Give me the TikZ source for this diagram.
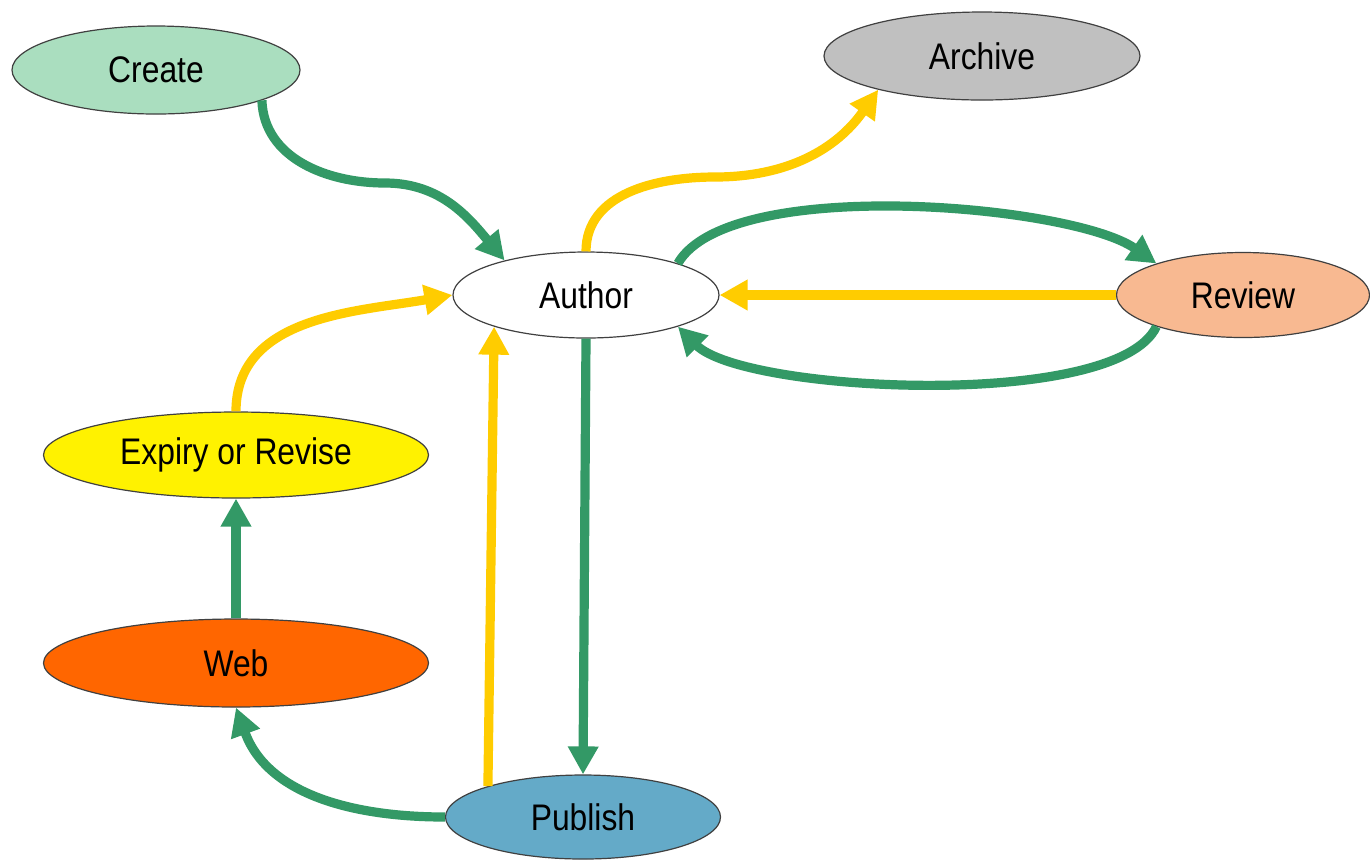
\documentclass[tikz,border=0pt]{standalone}
\usepackage{fontspec}
\setmainfont[FakeStretch=0.86]{Liberation Sans}
\usetikzlibrary{arrows.meta,shapes.geometric}
\definecolor{flowgreen}{HTML}{339966}
\definecolor{flowyellow}{HTML}{FFCC00}
\definecolor{createfill}{HTML}{AADEBF}
\definecolor{archivefill}{HTML}{C0C0C0}
\definecolor{reviewfill}{HTML}{F8B991}
\definecolor{webfill}{HTML}{FF6600}
\definecolor{publishfill}{HTML}{64AAC8}

\begin{document}
\begin{tikzpicture}[x=0.5pt,y=-0.5pt,
  stage/.style={ellipse, draw=black!75, line width=0.6pt, inner sep=0pt, font=\fontsize{18.5}{20}\selectfont},
  greenflow/.style={draw=flowgreen, line width=4.6pt, -{Triangle[length=14pt,width=14.5pt]}, flowgreen},
  yellowflow/.style={draw=flowyellow, line width=4.6pt, -{Triangle[length=14pt,width=14.5pt]}, flowyellow}]
  \useasboundingbox (0,0) rectangle (1370,859);
  \fill[white] (0,0) rectangle (1370,859);
  % stages
  \node[stage, fill=createfill, minimum width=144pt, minimum height=44pt] (create) at (156,70) {Create};
  \node[stage, fill=archivefill, minimum width=158pt, minimum height=44pt] (archive) at (982,56) {Archive};
  \node[stage, fill=white, minimum width=133pt, minimum height=43pt] (author) at (586,295) {Author};
  \node[stage, fill=reviewfill, minimum width=126.5pt, minimum height=42.5pt] (review) at (1243,295) {Review};
  \node[stage, fill=yellow, minimum width=192.5pt, minimum height=43pt] (expiry) at (236,455) {Expiry or Revise};
  \node[stage, fill=webfill, minimum width=192.5pt, minimum height=44pt] (web) at (236,663) {Web};
  \node[stage, fill=publishfill, minimum width=137.5pt, minimum height=42pt] (publish) at (583,817) {Publish};
  % bends of the s-curves
  \coordinate (createbend) at (385,183);
  \coordinate (archivebend) at (715,177);
  % flows
  \draw[greenflow] (create.-16) to[out=-88,in=180] (createbend) to[out=0,in=130] (author.157);
  \draw[yellowflow] (author.90) to[out=90,in=180] (archivebend) to[out=0,in=-125] (archive.198);
  \draw[greenflow] (author.19) to[out=60,in=145,looseness=0.55] (review.160);
  \draw[yellowflow] (review.west) -- (author.east);
  \draw[greenflow] (review.200) to[out=-115,in=-45,looseness=0.5] (author.-19);
  \draw[yellowflow] (expiry.north) to[out=90,in=190] (author.west);
  \draw[greenflow] (web) -- (expiry);
  \draw[greenflow] (publish.west) to[out=180,in=-70] (web.south);
  \draw[yellowflow] (publish.162) -- (author.199);
  \draw[greenflow] (author.south) -- (publish.north);
\end{tikzpicture}
\end{document}
